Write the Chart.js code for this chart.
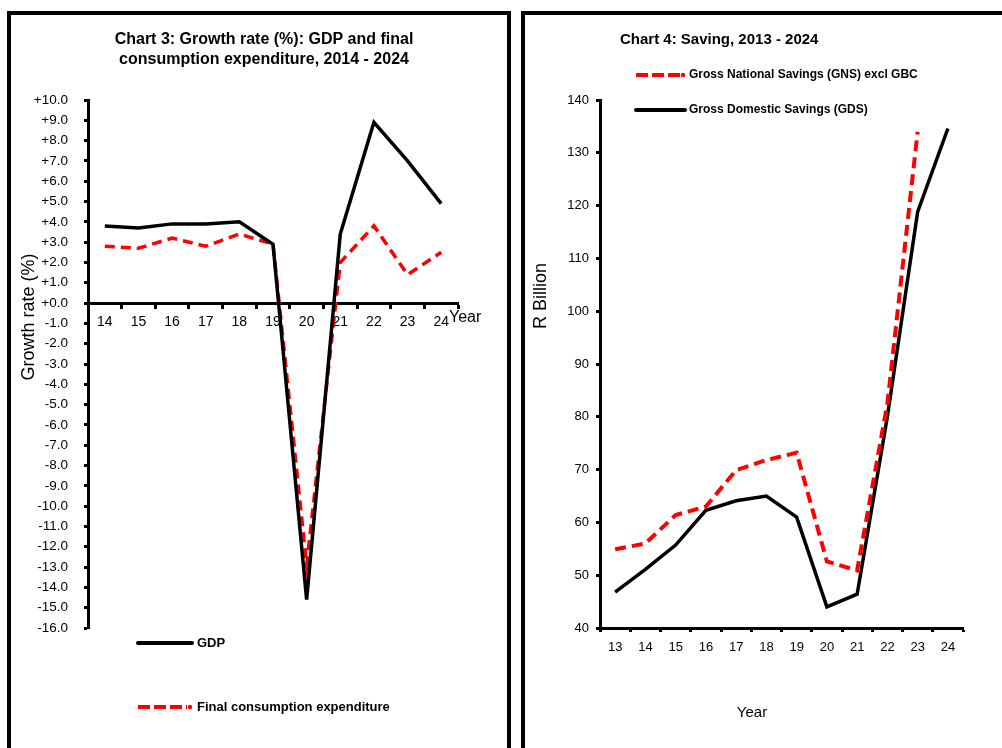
<!DOCTYPE html>
<html>
<head>
<meta charset="utf-8">
<script src="https://cdn.jsdelivr.net/npm/chart.js@4/dist/chart.umd.min.js"></script>
<style>
  html, body { margin: 0; padding: 0; background: #fff; width: 1002px; height: 748px; overflow: hidden; position: relative; }
  .panel { position: absolute; border: 4px solid #000; box-sizing: border-box; }
  #p3 { left: 7px; top: 11px; width: 504px; height: 800px; }
  #p4 { left: 521px; top: 11px; width: 600px; height: 800px; }
  canvas { position: absolute; top: 0; }
  #c3 { left: 0; }
  #c4 { left: 515px; }
</style>
</head>
<body>
<div class="panel" id="p3"></div>
<div class="panel" id="p4"></div>
<canvas id="c3" width="515" height="748"></canvas>
<canvas id="c4" width="487" height="748"></canvas>
<script>
// Chart 3: real growth rates (%)
const growthYears = ['14', '15', '16', '17', '18', '19', '20', '21', '22', '23', '24'];
const gdpGrowth   = [3.8, 3.7, 3.9, 3.9, 4.0, 2.9, -14.6, 3.4, 8.9, 7.0, 4.9];
const fceGrowth   = [2.8, 2.7, 3.2, 2.8, 3.4, 2.9, -12.9, 2.0, 3.8, 1.4, 2.5];
const growthAxisMin = -16, growthAxisMax = 10, growthAxisStep = 1;

// Chart 4: savings (R billion)
const savingYears = ['13', '14', '15', '16', '17', '18', '19', '20', '21', '22', '23', '24'];
const gnsSavings  = [54.9, 56.0, 61.4, 63.0, 69.9, 71.8, 73.2, 52.6, 50.9, 82.5, 134.0, null];
const gdsSavings  = [46.8, 51.1, 55.7, 62.3, 64.1, 65.0, 61.0, 44.0, 46.4, 80.0, 118.8, 134.6];
const savingAxisMin = 40, savingAxisMax = 140, savingAxisStep = 10;

const FAMILY = "'Liberation Sans', Arial, Helvetica, sans-serif";
Chart.defaults.font.family = FAMILY;
Chart.defaults.color = '#000';

const RED = '#ff0000';
const BLACK = '#000000';

function drawText(ctx, s, x, y, font, align, rot) {
  ctx.save();
  ctx.font = font;
  ctx.fillStyle = '#000';
  ctx.textAlign = align || 'left';
  ctx.textBaseline = 'middle';
  ctx.translate(x, y);
  if (rot) ctx.rotate(rot);
  ctx.fillText(s, 0, 0);
  ctx.restore();
}

function legendSwatch(ctx, ds, x1, x2, y) {
  ctx.save();
  ctx.strokeStyle = ds.borderColor;
  ctx.fillStyle = ds.borderColor;
  ctx.lineWidth = 4;
  if (ds.borderDash) {
    ctx.setLineDash([12, 4]);
    ctx.lineCap = 'butt';
    ctx.beginPath();
    ctx.moveTo(x1, y);
    ctx.lineTo(x2 - 5, y);
    ctx.stroke();
    ctx.beginPath();
    ctx.arc(x2 - 2, y, 2.2, 0, Math.PI * 2);
    ctx.fill();
  } else {
    ctx.lineCap = 'round';
    ctx.beginPath();
    ctx.moveTo(x1, y);
    ctx.lineTo(x2, y);
    ctx.stroke();
  }
  ctx.restore();
}

const axisLine = { display: true, color: BLACK, width: 3 };
const tickMarks = { display: true, drawOnChartArea: false, drawTicks: true, tickLength: 4, tickWidth: 3, tickColor: BLACK, offset: true };

// ---------- Chart 3 ----------
const growthDecor = {
  id: 'growthDecor',
  afterDraw(chart) {
    const ctx = chart.ctx;
    const ds = chart.data.datasets;
    drawText(ctx, 'Chart 3: Growth rate (%): GDP and final', 264, 40, 'bold 16px ' + FAMILY, 'center');
    drawText(ctx, 'consumption expenditure, 2014 - 2024', 264, 60, 'bold 16px ' + FAMILY, 'center');
    drawText(ctx, 'Growth rate (%)', 29, 317, '18px ' + FAMILY, 'center', -Math.PI / 2);
    const y0 = chart.scales.y.getPixelForValue(0);
    drawText(ctx, 'Year', chart.chartArea.right - 9, y0 + 15, '16px ' + FAMILY, 'left');
    legendSwatch(ctx, ds[0], 138, 192, 643);
    drawText(ctx, ds[0].label, 197, 643, 'bold 13px ' + FAMILY, 'left');
    legendSwatch(ctx, ds[1], 138, 192, 707);
    drawText(ctx, ds[1].label, 197, 707, 'bold 13px ' + FAMILY, 'left');
  }
};

new Chart(document.getElementById('c3'), {
  type: 'line',
  data: {
    labels: growthYears,
    datasets: [
      { label: 'GDP', data: gdpGrowth, borderColor: BLACK, borderWidth: 3.5, pointRadius: 0, tension: 0, fill: false },
      { label: 'Final consumption expenditure', data: fceGrowth, borderColor: RED, borderWidth: 3.5, borderDash: [10, 6], pointRadius: 0, tension: 0, fill: false }
    ]
  },
  options: {
    responsive: false,
    animation: false,
    devicePixelRatio: 1,
    layout: { padding: { left: 0, right: 57, top: 100, bottom: 120 } },
    plugins: { legend: { display: false }, title: { display: false }, tooltip: { enabled: false } },
    scales: {
      x: {
        type: 'category',
        offset: true,
        position: { y: 0 },
        border: axisLine,
        grid: tickMarks,
        ticks: { font: { size: 14 }, color: BLACK, padding: 7, maxRotation: 0, autoSkip: false }
      },
      y: {
        type: 'linear',
        min: growthAxisMin,
        max: growthAxisMax,
        border: axisLine,
        grid: Object.assign({}, tickMarks, { offset: false }),
        ticks: {
          stepSize: growthAxisStep,
          autoSkip: false,
          font: { size: 13.5 },
          color: BLACK,
          padding: 16,
          callback: (v) => (v >= 0 ? '+' : '') + Number(v).toFixed(1)
        },
        afterFit: (axis) => { axis.width = 88; }
      }
    }
  },
  plugins: [growthDecor]
});

// ---------- Chart 4 ----------
const savingDecor = {
  id: 'savingDecor',
  afterDraw(chart) {
    const ctx = chart.ctx;
    const ds = chart.data.datasets;
    const ox = 515;
    drawText(ctx, 'Chart 4: Saving, 2013 - 2024', 620 - ox, 40, 'bold 15px ' + FAMILY, 'left');
    legendSwatch(ctx, ds[0], 636 - ox, 685 - ox, 75);
    drawText(ctx, ds[0].label, 689 - ox, 75, 'bold 12px ' + FAMILY, 'left');
    legendSwatch(ctx, ds[1], 636 - ox, 685 - ox, 110);
    drawText(ctx, ds[1].label, 689 - ox, 110, 'bold 12px ' + FAMILY, 'left');
    drawText(ctx, 'R Billion', 541 - ox, 296, '18px ' + FAMILY, 'center', -Math.PI / 2);
    drawText(ctx, 'Year', 752 - ox, 713, '15px ' + FAMILY, 'center');
  }
};

new Chart(document.getElementById('c4'), {
  type: 'line',
  data: {
    labels: savingYears,
    datasets: [
      { label: 'Gross National Savings (GNS) excl GBC', data: gnsSavings, borderColor: RED, borderWidth: 4, borderDash: [11, 6], pointRadius: 0, tension: 0, fill: false },
      { label: 'Gross Domestic Savings (GDS)', data: gdsSavings, borderColor: BLACK, borderWidth: 3.5, pointRadius: 0, tension: 0, fill: false }
    ]
  },
  options: {
    responsive: false,
    animation: false,
    devicePixelRatio: 1,
    layout: { padding: { left: 0, right: 39, top: 100, bottom: 80 } },
    plugins: { legend: { display: false }, title: { display: false }, tooltip: { enabled: false } },
    scales: {
      x: {
        type: 'category',
        offset: true,
        position: 'bottom',
        border: axisLine,
        grid: tickMarks,
        ticks: { font: { size: 13 }, color: BLACK, padding: 8, maxRotation: 0, autoSkip: false },
        afterFit: (axis) => { axis.height = 40; }
      },
      y: {
        type: 'linear',
        min: savingAxisMin,
        max: savingAxisMax,
        border: axisLine,
        grid: Object.assign({}, tickMarks, { offset: false }),
        ticks: { stepSize: savingAxisStep, autoSkip: false, font: { size: 13 }, color: BLACK, padding: 7 },
        afterFit: (axis) => { axis.width = 85; }
      }
    }
  },
  plugins: [savingDecor]
});
</script>
</body>
</html>
